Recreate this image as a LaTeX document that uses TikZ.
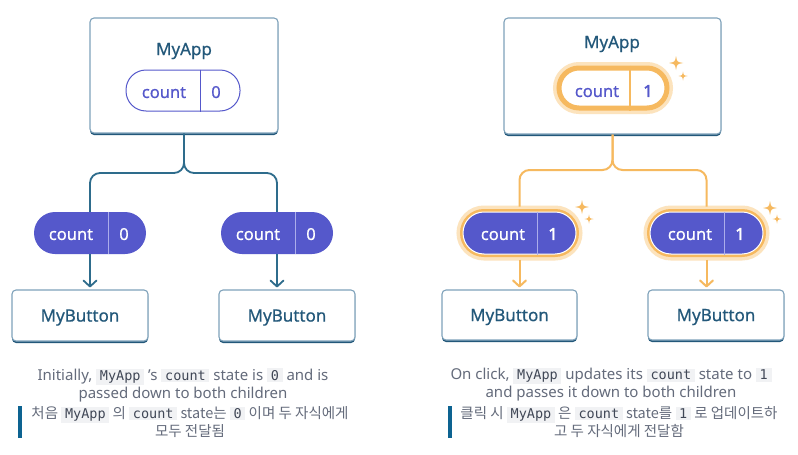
\documentclass[tikz,border=0pt]{standalone}
\usepackage{fontspec}
\setmainfont{Noto Sans}
\setmonofont{DejaVu Sans Mono}
\newfontfamily\medfont{Noto Sans}[FakeBold=0.6]
\newfontfamily\heavyfont{Noto Sans}[FakeBold=2.5]
\newfontfamily\krfont{Noto Sans CJK KR}
\usetikzlibrary{arrows.meta,shadows}

\definecolor{boxline}{HTML}{7FA2BA}
\definecolor{boxdark}{HTML}{23587A}
\definecolor{titletext}{HTML}{23587A}
\definecolor{wireblue}{HTML}{2E6C8C}
\definecolor{pillpurple}{HTML}{5558CB}
\definecolor{pilldiv}{HTML}{ABADEB}
\definecolor{glowor}{HTML}{F6B95F}
\definecolor{glowsoft}{HTML}{FCE3BD}
\definecolor{captext}{HTML}{646B7B}
\definecolor{codebg}{HTML}{F1F2F4}
\definecolor{codetext}{HTML}{404756}
\definecolor{barblue}{HTML}{0D6391}

\newcommand{\inlinecode}[1]{{\setlength{\fboxsep}{1.7pt}\colorbox{codebg}{\kern2pt\ttfamily\fontsize{13.5}{15}\selectfont\color{codetext}#1\kern2pt}}}

\tikzset{
  sparkle/.pic={
    \fill[glowor] (0,-1) .. controls (0.15,-0.15) .. (1,0) .. controls (0.15,0.15) .. (0,1)
      .. controls (-0.15,0.15) .. (-1,0) .. controls (-0.15,-0.15) .. cycle;
  }
}

\begin{document}
\begin{tikzpicture}[
      x=1pt, y=-1pt,
      compbox/.style={
          draw=boxline,
          line width=1.1pt,
          rounded corners=4pt,
          fill=white,
          text=titletext,
          text depth=0pt,
          font=\fontsize{17}{20}\selectfont\medfont,
          drop shadow={shadow xshift=0pt, shadow yshift=-2pt, fill=boxdark, opacity=1}
        },
      title/.style={text=titletext, text depth=0pt, font=\fontsize{17}{20}\selectfont\medfont},
      pilltext/.style={text=white, text depth=0pt, font=\fontsize{16.5}{20}\selectfont\medfont},
      pillnum/.style={pilltext, font=\fontsize{16.5}{20}\selectfont\heavyfont},
      pillline/.style={draw=pillpurple, line width=1pt, rounded corners=20pt, fill=white},
      pillfill/.style={fill=pillpurple, rounded corners=21pt},
      glowpill/.style={
          fill=pillpurple, draw=white, line width=1pt, rounded corners=21pt,
          preaction={draw=glowsoft, line width=13pt},
          preaction={draw=glowor, line width=6pt}
        },
      glowline/.style={
          fill=white, draw=glowor, line width=5pt, rounded corners=20pt,
          preaction={draw=glowsoft, line width=12pt}
        },
      wire/.style={draw=wireblue, line width=1.8pt},
      owire/.style={draw=glowor, line width=2pt},
      arrowtip/.style={-{Straight Barb[length=6pt,width=13pt,round]}, shorten >=2pt},
      caption/.style={text=captext, align=center, inner sep=0pt, font=\fontsize{15}{18}\selectfont}
    ]
    \useasboundingbox[fill=white] (0,0) rectangle (798,455);

    % left: initial state
    \node[compbox, minimum width=188, minimum height=115] (lapp) at (184,75.5) {};
    \node[title] (lappname) at (184,49) {MyApp};
    \node[pillline, minimum width=114, minimum height=41] (lapppill) at (183,90.5) {};
    \draw[pillpurple, line width=1pt] ([xshift=17]lapppill.north) -- ([xshift=17]lapppill.south);
    \node[pilltext, text=pillpurple] (lappk) at (164,92.5) {count};
    \node[pilltext, text=pillpurple] (lappv) at (216,92) {0};

    \node[pillfill, minimum width=112, minimum height=42] (lpill) at (90,233) {};
    \draw[pilldiv, line width=1pt] ([xshift=18]lpill.north) -- ([xshift=18]lpill.south);
    \node[pilltext] (lpillk) at (71,234.5) {count};
    \node[pilltext] (lpillv) at (124,234) {0};

    \node[pillfill, minimum width=112, minimum height=42] (rpill) at (277,233) {};
    \draw[pilldiv, line width=1pt] ([xshift=18]rpill.north) -- ([xshift=18]rpill.south);
    \node[pilltext] (rpillk) at (258,234.5) {count};
    \node[pilltext] (rpillv) at (311,234) {0};

    \node[compbox, minimum width=136, minimum height=51] (lbtn) at (80,315.5) {MyButton};
    \node[compbox, minimum width=136, minimum height=51] (rbtn) at (287,315.5) {MyButton};

    \coordinate (lfork) at (184,173);
    \draw[wire, rounded corners=10pt] (lapp.south) -- (lfork) -| (lpill.north);
    \draw[wire, rounded corners=10pt] (lapp.south) -- (lfork) -| (rpill.north);
    \draw[wire, arrowtip] (lpill.south) -- (lpill.south |- lbtn.north);
    \draw[wire, arrowtip] (rpill.south) -- (rpill.south |- rbtn.north);

    \node[caption] (lcap) at (183,385) {Initially, \inlinecode{MyApp} 's \inlinecode{count} state is \inlinecode{0} and is\\passed down to both children};
    \node[caption, font=\fontsize{14.5}{18}\selectfont\krfont] (lkr) at (190,422) {처음 \inlinecode{MyApp} 의 \inlinecode{count} state는 \inlinecode{0} 이며 두 자식에게\\모두 전달됨};
    \fill[barblue] (18,406) rectangle (22,438);

    % right: after click
    \node[compbox, minimum width=217, minimum height=116] (rapp) at (612.5,76) {};
    \node[title] (rappname) at (612,42) {MyApp};
    \node[glowline, minimum width=108, minimum height=40] (rapppill) at (613,88) {};
    \draw[glowor, line width=1.5pt] ([xshift=17]rapppill.north) -- ([xshift=17]rapppill.south);
    \node[pilltext, text=pillpurple] (rappk) at (597,91.5) {count};
    \node[pillnum, text=pillpurple] (rappv) at (648,91) {1};
    \pic[scale=7] at (676,63) {sparkle};
    \pic[scale=4.5] at (683,76) {sparkle};

    \node[glowpill, minimum width=113, minimum height=42] (rlpill) at (519.5,233) {};
    \draw[pilldiv, line width=1pt] ([xshift=17.5]rlpill.north) -- ([xshift=17.5]rlpill.south);
    \node[pilltext] (rlpillk) at (503,234.5) {count};
    \node[pillnum] (rlpillv) at (553,234) {1};
    \pic[scale=7] at (582,207) {sparkle};
    \pic[scale=4.5] at (589,219) {sparkle};

    \node[glowpill, minimum width=113, minimum height=42] (rrpill) at (706.5,233) {};
    \draw[pilldiv, line width=1pt] ([xshift=17.5]rrpill.north) -- ([xshift=17.5]rrpill.south);
    \node[pilltext] (rrpillk) at (690,234.5) {count};
    \node[pillnum] (rrpillv) at (740,234) {1};
    \pic[scale=7] at (770,208) {sparkle};
    \pic[scale=4.5] at (777,219) {sparkle};

    \node[compbox, minimum width=135, minimum height=50] (rlbtn) at (509.5,315) {MyButton};
    \node[compbox, minimum width=136, minimum height=50] (rrbtn) at (716,315) {MyButton};

    \coordinate (rfork) at (612.5,170);
    \draw[owire, rounded corners=10pt, shorten >=5pt] (rapp.south) -- (rfork) -| (rlpill.north);
    \draw[owire, rounded corners=10pt, shorten >=5pt] (rapp.south) -- (rfork) -| (rrpill.north);
    \draw[owire, arrowtip, shorten <=5pt] (rlpill.south) -- (rlpill.south |- rlbtn.north);
    \draw[owire, arrowtip, shorten <=5pt] (rrpill.south) -- (rrpill.south |- rrbtn.north);

    \node[caption] (rcap) at (611,385) {On click, \inlinecode{MyApp} updates its \inlinecode{count} state to \inlinecode{1}\\and passes it down to both children};
    \node[caption, font=\fontsize{14.5}{18}\selectfont\krfont] (rkr) at (619,422) {클릭 시 \inlinecode{MyApp} 은 \inlinecode{count} state를 \inlinecode{1} 로 업데이트하\\고 두 자식에게 전달함};
    \fill[barblue] (448,406) rectangle (452,438);
  \end{tikzpicture}
\end{document}
